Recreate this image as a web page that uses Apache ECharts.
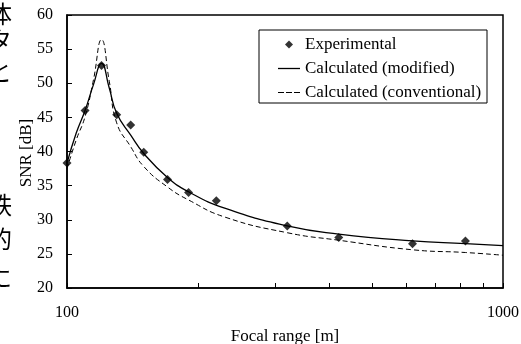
<!DOCTYPE html>
<html>
<head>
<meta charset="utf-8">
<script src="https://cdn.jsdelivr.net/npm/echarts@6/dist/echarts.min.js"></script>
<style>
  html, body { margin: 0; padding: 0; background: #fff; }
  #chart { width: 521px; height: 344px; }
</style>
</head>
<body>
<div id="chart"></div>
<script>
// measured points
const expRange = [100, 110, 120, 130, 140, 150, 170, 190, 220, 320, 420, 620, 820];
const expSnr = [38.3, 46.0, 52.6, 45.4, 43.9, 39.9, 35.9, 34.0, 32.8, 29.1, 27.4, 26.5, 26.9];

// calculated curves
const calcRange = [100, 105, 110, 115, 120, 125, 130, 140, 150, 170, 190, 230, 320, 420, 620, 820, 1000];
const snrModified = [38.3, 42.7, 46.0, 49.8, 52.9, 49.3, 45.6, 42.4, 39.7, 36.2, 34.1, 31.7, 29.1, 27.9, 26.9, 26.5, 26.2];
const snrConventional = [37.5, 41.7, 45.1, 50.5, 56.4, 50.3, 44.2, 40.7, 37.8, 34.8, 32.9, 30.4, 28.1, 27.0, 25.6, 25.2, 24.8];

const xTickValues = [100, 200, 300, 400, 500, 600, 700, 800, 900, 1000];
const xLabelValues = [100, 1000];

// clipped japanese text from the page margin
const sideChars = ['体', 'タ', 'と', '鉄', '的', 'に'];

const serif = "'Liberation Serif', 'Times New Roman', serif";
const sideY = [2, 28, 60, 193, 227, 266];

// legend icons (paths keep their aspect)
const iconDiamond = 'path://M0,-1L1,0L0,1L-1,0Z';
const iconSolid = 'path://M0,0h22v1.3h-22z';
const iconDashed = 'path://M0,0h6v1h-6zM8,0h6v1h-6zM16,0h6v1h-6z';

const chart = echarts.init(document.getElementById('chart'));

const sideGraphics = sideChars.map((ch, i) => ({
  type: 'text',
  left: -12,
  top: sideY[i],
  style: { text: ch, font: "24px 'Noto Sans CJK JP'", fill: '#000' }
}));

const option = {
  animation: false,
  backgroundColor: '#fff',
  grid: {
    left: 67, right: 18, top: 15, bottom: 56,
    outerBoundsMode: 'none',
    show: true, borderColor: '#000', borderWidth: 1.5
  },
  legend: {
    orient: 'vertical',
    left: 278,
    top: 36,
    padding: 0,
    itemWidth: 22,
    itemHeight: 8,
    itemGap: 7,
    symbolKeepAspect: true,
    textStyle: { fontFamily: serif, fontSize: 17, color: '#000' },
    data: [
      { name: 'Experimental', icon: iconDiamond },
      { name: 'Calculated (modified)', icon: iconSolid },
      { name: 'Calculated (conventional)', icon: iconDashed }
    ]
  },
  xAxis: {
    type: 'log',
    logBase: 10,
    min: 100,
    max: 1000,
    name: 'Focal range [m]',
    nameLocation: 'middle',
    nameGap: 40,
    nameTextStyle: { fontFamily: serif, fontSize: 17, color: '#000' },
    axisLine: { lineStyle: { color: '#000', width: 1.5 } },
    axisTick: { inside: true, length: 5, lineStyle: { color: '#000' }, customValues: xTickValues },
    axisLabel: {
      fontFamily: serif, fontSize: 16, color: '#000', margin: 17,
      customValues: xLabelValues,
      formatter: v => String(v)
    },
    splitLine: { show: false },
    minorTick: { show: false }
  },
  yAxis: {
    type: 'value',
    min: 20,
    max: 60,
    interval: 5,
    axisLine: { show: true, lineStyle: { color: '#000', width: 1.5 } },
    axisTick: { show: true, inside: true, length: 5, lineStyle: { color: '#000' } },
    axisLabel: { fontFamily: serif, fontSize: 16, color: '#000', margin: 14 },
    splitLine: { show: false }
  },
  graphic: [
    {
      type: 'rect',
      shape: { x: 259, y: 30, width: 228, height: 73 },
      style: { fill: 'none', stroke: '#000', lineWidth: 1 },
      z: 10
    },
    {
      // y axis title, drawn by hand so it sits between the labels like the original
      type: 'text',
      x: 27,
      y: 153,
      rotation: Math.PI / 2,
      style: {
        text: 'SNR [dB]',
        font: "17px 'Liberation Serif'",
        fill: '#000',
        textAlign: 'center',
        textVerticalAlign: 'middle',
        align: 'center',
        verticalAlign: 'middle'
      }
    }
  ].concat(sideGraphics),
  series: [
    {
      name: 'Calculated (modified)',
      type: 'line',
      smooth: true,
      symbol: 'none',
      data: calcRange.map((x, i) => [x, snrModified[i]]),
      lineStyle: { color: '#000', width: 1.3 },
      itemStyle: { color: '#000' }
    },
    {
      name: 'Calculated (conventional)',
      type: 'line',
      smooth: true,
      symbol: 'none',
      data: calcRange.map((x, i) => [x, snrConventional[i]]),
      lineStyle: { color: '#000', width: 1, type: [5, 3] },
      itemStyle: { color: '#000' }
    },
    {
      name: 'Experimental',
      type: 'scatter',
      symbol: 'diamond',
      symbolSize: 9,
      data: expRange.map((x, i) => [x, expSnr[i]]),
      itemStyle: { color: '#000' },
      z: 5
    }
  ]
};

chart.setOption(option);
</script>
</body>
</html>
